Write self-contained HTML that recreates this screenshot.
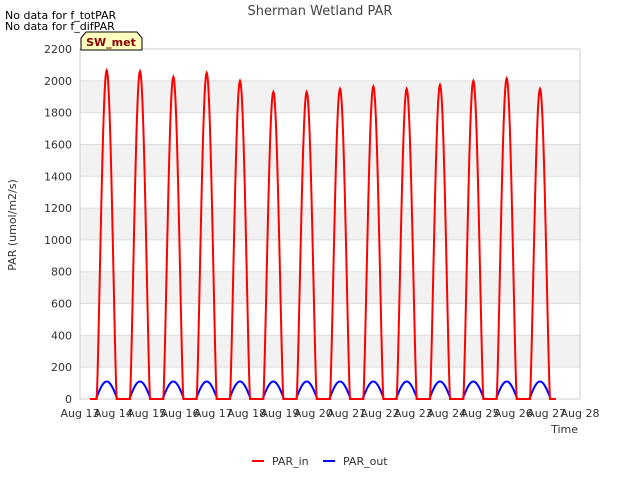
<!DOCTYPE html>
<html><head><meta charset="utf-8"><style>
body{margin:0;background:#fff;font-family:"Liberation Sans",sans-serif;}
svg text{font-family:"DejaVu Sans","Liberation Sans",sans-serif;}
</style></head><body>
<svg id="c" width="640" height="480" xmlns="http://www.w3.org/2000/svg">
<rect width="640" height="480" fill="#fff"/>
<text x="320" y="15" text-anchor="middle" font-size="13" fill="#444">Sherman Wetland PAR</text>
<text x="5" y="19" font-size="11" fill="#000">No data for f_totPAR</text>
<text x="5" y="30" font-size="11" fill="#000">No data for f_difPAR</text>
<g id="plot"></g>
<g>
<path d="M81,50 L81,38 L86,32 L137,32 L142,38 L142,50 Z" fill="#ffffc0" stroke="#000"/>
<text x="111" y="46" text-anchor="middle" font-size="11" font-weight="bold" fill="#8b0000">SW_met</text>
</g>
<text x="16" y="225" font-size="11" fill="#333" transform="rotate(-90 16 225)" text-anchor="middle">PAR (umol/m2/s)</text>
<text x="578" y="433" font-size="11" fill="#333" text-anchor="end">Time</text>
<g>
<line x1="252" y1="461" x2="264" y2="461" stroke="#f00" stroke-width="2"/>
<text x="272" y="465" font-size="11" fill="#333">PAR_in</text>
<line x1="323" y1="461" x2="335" y2="461" stroke="#00f" stroke-width="2"/>
<text x="343" y="465" font-size="11" fill="#333">PAR_out</text>
</g>
</svg>
<script>
const days = [13,14,15,16,17,18,19,20,21,22,23,24,25,26];
const parInPeaks = [2065,2060,2025,2050,2000,1930,1930,1950,1965,1950,1975,2000,2015,1950];
const parOutPeaks = [110,110,110,110,110,110,110,110,110,110,110,110,110,110];
const yTicks = [0,200,400,600,800,1000,1200,1400,1600,1800,2000,2200];
const xTickDays = [13,14,15,16,17,18,19,20,21,22,23,24,25,26,27,28];

const X0=80,X1=580,Y0=399,Y1=49;
const xs=d=>X0+(d-13)/(28-13)*(X1-X0);
const ys=v=>Y0-v/2200*(Y0-Y1);
const NS="http://www.w3.org/2000/svg";
const g=document.getElementById('plot');
function el(t,a){const e=document.createElementNS(NS,t);for(const k in a)e.setAttribute(k,a[k]);g.appendChild(e);return e;}
for(let i=0;i<yTicks.length-1;i++){
  if(i%2===1){const r=el('rect',{x:X0,y:ys(yTicks[i+1]),width:X1-X0,height:ys(yTicks[i])-ys(yTicks[i+1]),fill:'#f2f2f2'});
  
  }
}
yTicks.forEach(v=>{
  const l=el('line',{x1:X0,x2:X1,y1:ys(v),y2:ys(v),stroke:'#ddd'});
  
  
  const t=el('text',{x:X0-8,y:ys(v)+4,'text-anchor':'end','font-size':11,fill:'#333'});t.textContent=v;
  
  
});
const fr=el('rect',{x:X0,y:Y1,width:X1-X0,height:Y0-Y1,fill:'none',stroke:'#ccc'});


xTickDays.forEach(d=>{
  const t=el('text',{x:xs(d),y:Y0+18,'text-anchor':'middle','font-size':11,fill:'#333'});t.textContent='Aug '+d;
  
  
});
function series(peaks,s,e,pw,color,name){
  let pts=[[xs(days[0]+0.3),ys(0)]];
  days.forEach((d,i)=>{
    pts.push([xs(d+s),ys(0)]);
    for(let k=0;k<=40;k++){const f=k/40;const v=peaks[i]*Math.pow(Math.sin(Math.PI*f),pw);pts.push([xs(d+s+(e-s)*f),ys(v)]);}
  });
  pts.push([xs(days[days.length-1]+1.28),ys(0)]);
  const p=el('polyline',{points:pts.map(p=>p.join(',')).join(' '),fill:'none',stroke:color,'stroke-width':2});
  
  
}
series(parOutPeaks,0.48,1.12,1,'#00f','par-out-line');
series(parInPeaks,0.5,1.1,1.3,'#f00','par-in-line');
</script>
</body></html>
